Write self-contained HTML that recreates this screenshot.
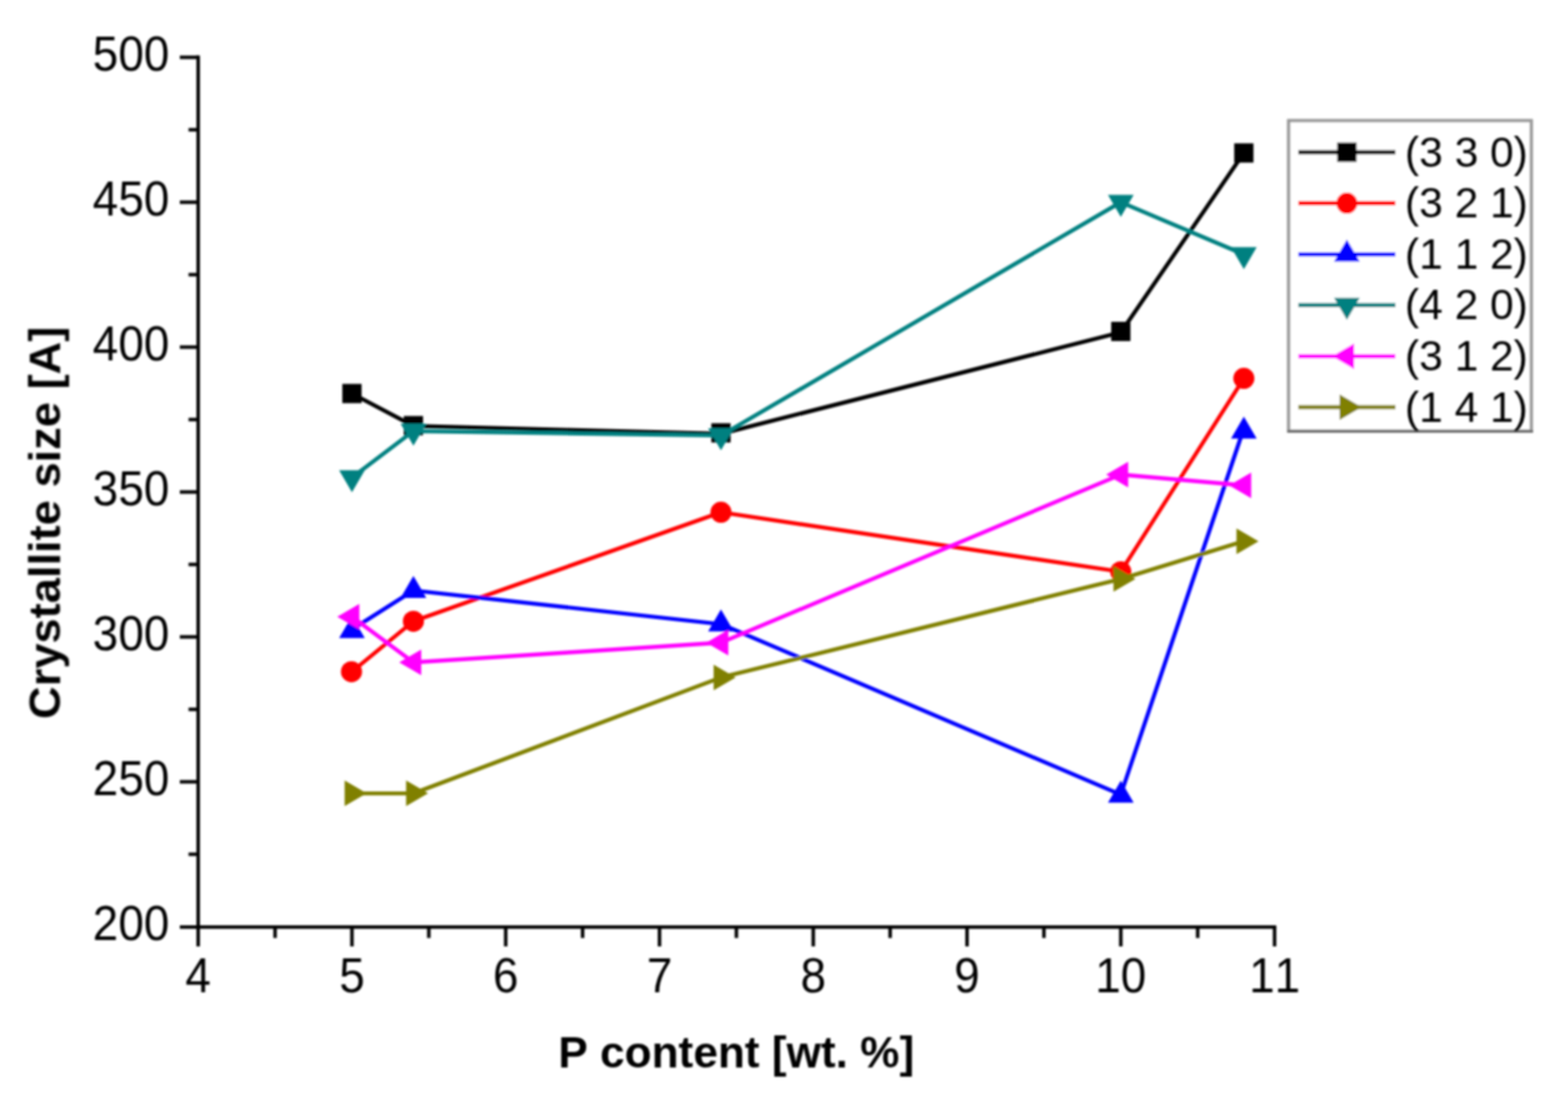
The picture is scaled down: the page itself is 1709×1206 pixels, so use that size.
<!DOCTYPE html>
<html lang="en">
<head>
<meta charset="utf-8">
<title>Crystallite size vs P content</title>
<style>
html,body{margin:0;padding:0;background:#fff;}
body{width:1709px;height:1206px;overflow:hidden;}
svg{display:block;}
text{font-family:"Liberation Sans",Arial,sans-serif;fill:#000;font-kerning:none;white-space:pre;}
.tk{font-size:53px;}
.lg{font-size:45.5px;}
.ti{font-size:48.5px;font-weight:bold;}
</style>
</head>
<body>
<svg xmlns="http://www.w3.org/2000/svg" width="1709" height="1206" viewBox="0 0 1709 1206">
<defs>
<filter id="fg" filterUnits="userSpaceOnUse" x="0" y="0" width="1709" height="1206"><feGaussianBlur stdDeviation="0.8"/></filter>
</defs>
<rect x="0" y="0" width="1709" height="1206" fill="#ffffff"/>

<g class="gfx" filter="url(#fg)">
<g stroke="#000" stroke-width="3.8" fill="none" stroke-linecap="butt">
<line x1="216.0" y1="60.6" x2="216.0" y2="1032"/>
<line x1="196" y1="1010.9" x2="1391.1" y2="1010.9"/>
<line x1="205.5" y1="931.5" x2="216.0" y2="931.5"/>
<line x1="196" y1="852.5" x2="216.0" y2="852.5"/>
<line x1="205.5" y1="773.5" x2="216.0" y2="773.5"/>
<line x1="196" y1="694.5" x2="216.0" y2="694.5"/>
<line x1="205.5" y1="615.5" x2="216.0" y2="615.5"/>
<line x1="196" y1="536.5" x2="216.0" y2="536.5"/>
<line x1="205.5" y1="457.5" x2="216.0" y2="457.5"/>
<line x1="196" y1="378.5" x2="216.0" y2="378.5"/>
<line x1="205.5" y1="299.5" x2="216.0" y2="299.5"/>
<line x1="196" y1="220.5" x2="216.0" y2="220.5"/>
<line x1="205.5" y1="141.5" x2="216.0" y2="141.5"/>
<line x1="196" y1="62.5" x2="216.0" y2="62.5"/>
<line x1="299.8" y1="1010.9" x2="299.8" y2="1022.8"/>
<line x1="383.6" y1="1010.9" x2="383.6" y2="1032"/>
<line x1="467.4" y1="1010.9" x2="467.4" y2="1022.8"/>
<line x1="551.2" y1="1010.9" x2="551.2" y2="1032"/>
<line x1="635.0" y1="1010.9" x2="635.0" y2="1022.8"/>
<line x1="718.8" y1="1010.9" x2="718.8" y2="1032"/>
<line x1="802.6" y1="1010.9" x2="802.6" y2="1022.8"/>
<line x1="886.4" y1="1010.9" x2="886.4" y2="1032"/>
<line x1="970.2" y1="1010.9" x2="970.2" y2="1022.8"/>
<line x1="1054.0" y1="1010.9" x2="1054.0" y2="1032"/>
<line x1="1137.8" y1="1010.9" x2="1137.8" y2="1022.8"/>
<line x1="1221.6" y1="1010.9" x2="1221.6" y2="1032"/>
<line x1="1305.4" y1="1010.9" x2="1305.4" y2="1022.8"/>
<line x1="1389.2" y1="1010.9" x2="1389.2" y2="1032"/>
</g>
</g>
<g class="txt" filter="url(#fg)">
<g transform="translate(184.50 1024.90) scale(0.9431 1)">
<text class="tk" x="-88.43" y="0">200</text>
</g>
<g transform="translate(184.50 866.90) scale(0.9431 1)">
<text class="tk" x="-88.43" y="0">250</text>
</g>
<g transform="translate(184.50 708.90) scale(0.9431 1)">
<text class="tk" x="-88.43" y="0">300</text>
</g>
<g transform="translate(184.50 550.90) scale(0.9431 1)">
<text class="tk" x="-88.43" y="0">350</text>
</g>
<g transform="translate(184.50 392.90) scale(0.9431 1)">
<text class="tk" x="-88.43" y="0">400</text>
</g>
<g transform="translate(184.50 234.90) scale(0.9431 1)">
<text class="tk" x="-88.43" y="0">450</text>
</g>
<g transform="translate(184.50 76.90) scale(0.9431 1)">
<text class="tk" x="-88.43" y="0">500</text>
</g>
<g transform="translate(216.00 1081.50) scale(0.9431 1)">
<text class="tk" x="-14.74" y="0">4</text>
</g>
<g transform="translate(383.60 1081.50) scale(0.9431 1)">
<text class="tk" x="-14.74" y="0">5</text>
</g>
<g transform="translate(551.20 1081.50) scale(0.9431 1)">
<text class="tk" x="-14.74" y="0">6</text>
</g>
<g transform="translate(718.80 1081.50) scale(0.9431 1)">
<text class="tk" x="-14.74" y="0">7</text>
</g>
<g transform="translate(886.40 1081.50) scale(0.9431 1)">
<text class="tk" x="-14.74" y="0">8</text>
</g>
<g transform="translate(1054.00 1081.50) scale(0.9431 1)">
<text class="tk" x="-14.74" y="0">9</text>
</g>
<g transform="translate(1221.60 1081.50) scale(0.9431 1)">
<text class="tk" x="-29.48" y="0">10</text>
</g>
<g transform="translate(1389.20 1081.50) scale(0.9431 1)">
<text class="tk" x="-29.48" y="0">11</text>
</g>
<g transform="translate(802.50 1163.50) scale(0.9932 1)">
<text class="ti" x="-195.34" y="0">P content [wt. %]</text>
</g>
<g transform="translate(65.50 570.00) rotate(-90) scale(1.0179 1)">
<text class="ti" x="-210.23" y="0">Crystallite size [A]</text>
</g>
</g>
<g class="gfx" filter="url(#fg)">
<polyline points="383.6,429.1 450.6,464.5 785.8,473.0 1221.6,362.4 1355.7,166.8" fill="none" stroke="#000000" stroke-width="4.4" stroke-linejoin="round"/>
<rect x="373.1" y="418.6" width="21.0" height="21.0" fill="#000000"/>
<rect x="440.1" y="453.6" width="21.0" height="21.0" fill="#000000"/>
<rect x="775.3" y="461.5" width="21.0" height="21.0" fill="#000000"/>
<rect x="1211.1" y="350.9" width="21.0" height="21.0" fill="#000000"/>
<rect x="1345.2" y="156.3" width="21.0" height="21.0" fill="#000000"/>
<polyline points="383.6,732.4 450.6,677.4 785.8,558.6 1221.6,623.4 1355.7,412.6" fill="none" stroke="#ff0000" stroke-width="4.4" stroke-linejoin="round"/>
<circle cx="383.1" cy="732.4" r="11.5" fill="#ff0000"/>
<circle cx="450.6" cy="677.4" r="11.5" fill="#ff0000"/>
<circle cx="785.8" cy="558.6" r="11.5" fill="#ff0000"/>
<circle cx="1221.6" cy="623.4" r="11.5" fill="#ff0000"/>
<circle cx="1355.7" cy="412.6" r="11.5" fill="#ff0000"/>
<polyline points="383.6,686.3 450.6,643.9 785.8,680.6 1221.6,866.4 1355.7,467.0" fill="none" stroke="#0000ff" stroke-width="4.4" stroke-linejoin="round"/>
<polygon points="369.6,695.8 397.6,695.8 383.6,671.8" fill="#0000ff"/>
<polygon points="436.6,651.9 464.6,651.9 450.6,627.9" fill="#0000ff"/>
<polygon points="771.8,688.6 799.8,688.6 785.8,664.6" fill="#0000ff"/>
<polygon points="1207.6,875.2 1235.6,875.2 1221.6,851.2" fill="#0000ff"/>
<polygon points="1341.7,478.2 1369.7,478.2 1355.7,454.2" fill="#0000ff"/>
<polyline points="383.6,520.7 450.6,470.1 785.8,474.9 1221.6,220.5 1355.7,277.4" fill="none" stroke="#008080" stroke-width="4.4" stroke-linejoin="round"/>
<polygon points="369.6,512.7 397.6,512.7 383.6,536.7" fill="#008080"/>
<polygon points="436.6,462.1 464.6,462.1 450.6,486.1" fill="#008080"/>
<polygon points="771.8,466.9 799.8,466.9 785.8,490.9" fill="#008080"/>
<polygon points="1207.6,212.5 1235.6,212.5 1221.6,236.5" fill="#008080"/>
<polygon points="1341.7,269.4 1369.7,269.4 1355.7,293.4" fill="#008080"/>
<polyline points="383.6,672.4 450.6,722.3 785.8,700.8 1221.6,517.5 1355.7,529.2" fill="none" stroke="#ff00ff" stroke-width="4.4" stroke-linejoin="round"/>
<polygon points="391.6,658.4 391.6,686.4 367.6,672.4" fill="#ff00ff"/>
<polygon points="459.1,708.3 459.1,736.3 435.1,722.3" fill="#ff00ff"/>
<polygon points="793.8,686.8 793.8,714.8 769.8,700.8" fill="#ff00ff"/>
<polygon points="1229.6,503.5 1229.6,531.5 1205.6,517.5" fill="#ff00ff"/>
<polygon points="1363.7,515.2 1363.7,543.2 1339.7,529.2" fill="#ff00ff"/>
<polyline points="383.6,865.1 450.6,865.1 785.8,738.7 1221.6,631.3 1355.7,590.2" fill="none" stroke="#808000" stroke-width="4.4" stroke-linejoin="round"/>
<polygon points="375.6,851.1 375.6,879.1 399.6,865.1" fill="#808000"/>
<polygon points="442.6,851.1 442.6,879.1 466.6,865.1" fill="#808000"/>
<polygon points="777.8,724.7 777.8,752.7 801.8,738.7" fill="#808000"/>
<polygon points="1213.6,617.3 1213.6,645.3 1237.6,631.3" fill="#808000"/>
<polygon points="1347.7,576.2 1347.7,604.2 1371.7,590.2" fill="#808000"/>
<rect x="1404.5" y="131.5" width="264.5" height="338.5" fill="#fff" stroke="#9a9a9a" stroke-width="3.6"/>
<line x1="1403" y1="470.4" x2="1671" y2="470.4" stroke="#606060" stroke-width="2.4"/>
<line x1="1415" y1="166.0" x2="1521" y2="166.0" stroke="#000000" stroke-width="4.6"/>
<rect x="1457.5" y="155.5" width="21.0" height="21.0" fill="#000000"/>
<line x1="1415" y1="221.6" x2="1521" y2="221.6" stroke="#ff0000" stroke-width="4.6"/>
<circle cx="1468.0" cy="221.6" r="11.5" fill="#ff0000"/>
<line x1="1415" y1="277.2" x2="1521" y2="277.2" stroke="#0000ff" stroke-width="4.6"/>
<polygon points="1454.0,285.2 1482.0,285.2 1468.0,261.2" fill="#0000ff"/>
<line x1="1415" y1="332.8" x2="1521" y2="332.8" stroke="#008080" stroke-width="4.6"/>
<polygon points="1454.0,324.8 1482.0,324.8 1468.0,348.8" fill="#008080"/>
<line x1="1415" y1="388.4" x2="1521" y2="388.4" stroke="#ff00ff" stroke-width="4.6"/>
<polygon points="1476.0,374.4 1476.0,402.4 1452.0,388.4" fill="#ff00ff"/>
<line x1="1415" y1="444.0" x2="1521" y2="444.0" stroke="#808000" stroke-width="4.6"/>
<polygon points="1460.0,430.0 1460.0,458.0 1484.0,444.0" fill="#808000"/>
</g>
<g class="txt" filter="url(#fg)">
<g transform="translate(1531.30 181.50) scale(1.0190 1)">
<text class="lg" x="0.00" y="0">(3 3 0)</text>
</g>
<g transform="translate(1531.30 237.10) scale(1.0190 1)">
<text class="lg" x="0.00" y="0">(3 2 1)</text>
</g>
<g transform="translate(1531.30 292.70) scale(1.0190 1)">
<text class="lg" x="0.00" y="0">(1 1 2)</text>
</g>
<g transform="translate(1531.30 348.30) scale(1.0190 1)">
<text class="lg" x="0.00" y="0">(4 2 0)</text>
</g>
<g transform="translate(1531.30 403.90) scale(1.0190 1)">
<text class="lg" x="0.00" y="0">(3 1 2)</text>
</g>
<g transform="translate(1531.30 459.50) scale(1.0190 1)">
<text class="lg" x="0.00" y="0">(1 4 1)</text>
</g>
</g>
</svg>
</body>
</html>
